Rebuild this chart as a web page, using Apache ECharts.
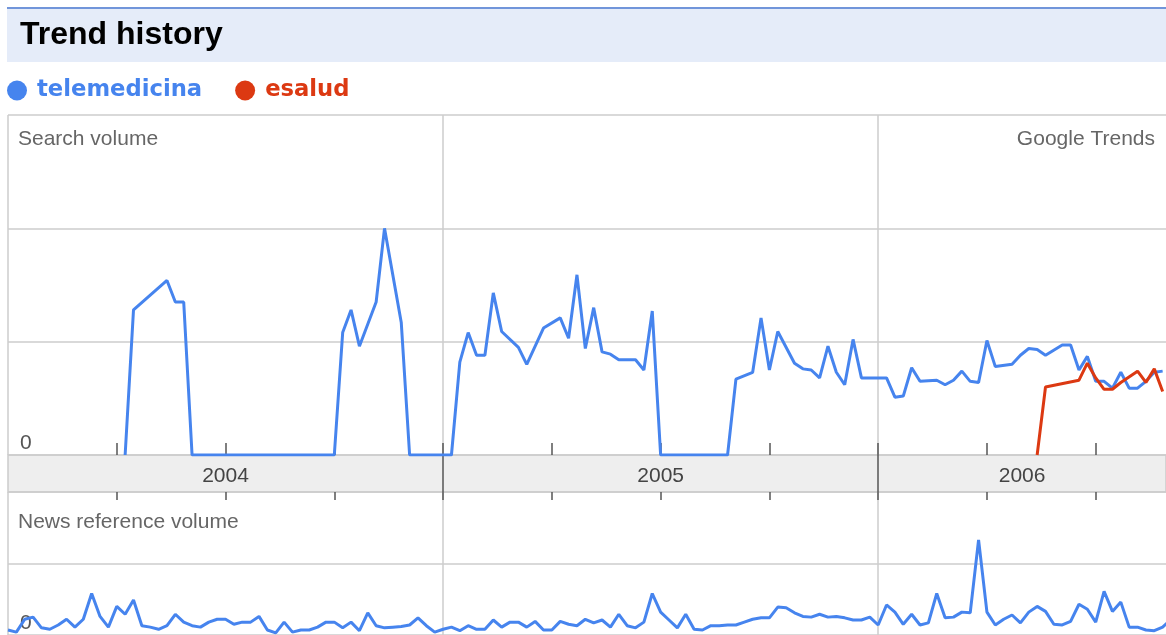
<!DOCTYPE html>
<html>
<head>
<meta charset="utf-8">
<script src="https://cdn.jsdelivr.net/npm/echarts@6/dist/echarts.min.js"></script>
<style>
html,body{margin:0;padding:0;background:#fff;}
#c{width:1166px;height:635px;}
</style>
</head>
<body>
<div id="c"></div>
<script>
// Week index 0 = first week of January 2004 (52 weeks per year)
const yearLabels = ['2004', '2005', '2006'];
const quarterTickWeeks = [13, 26, 39, 52, 65, 78, 91, 104, 117, 130];
const yearBoundaryWeeks = [52, 104];
const yearLabelWeeks = [26, 78, 121.2];

// Search volume - telemedicina (vertices: week, value)
const teleWeeks = [14, 15, 19, 20, 21, 22, 39, 40, 41, 42, 44, 45, 47, 48, 53, 54, 55, 56, 57, 58, 59, 61, 62, 64, 66, 67, 68, 69, 70, 71, 72, 73, 75, 76, 77, 78, 86, 87, 89, 90, 91, 92, 94, 95, 96, 97, 98, 99, 100, 101, 102, 105, 106, 107, 108, 109, 111, 112, 113, 114, 115, 116, 117, 118, 120, 121, 122, 123, 124, 126, 127, 128, 129, 130, 131, 132, 133, 134, 135, 136, 137, 138];
const teleValues = [0, 1.28, 1.54, 1.35, 1.35, 0, 0, 1.08, 1.28, 0.96, 1.35, 2.0, 1.17, 0, 0, 0.82, 1.08, 0.88, 0.88, 1.43, 1.09, 0.95, 0.80, 1.12, 1.21, 1.03, 1.59, 0.94, 1.30, 0.91, 0.89, 0.84, 0.84, 0.75, 1.27, 0, 0, 0.67, 0.73, 1.21, 0.75, 1.09, 0.81, 0.76, 0.75, 0.68, 0.96, 0.73, 0.62, 1.02, 0.68, 0.68, 0.51, 0.52, 0.77, 0.65, 0.66, 0.62, 0.66, 0.74, 0.65, 0.64, 1.01, 0.78, 0.80, 0.88, 0.94, 0.93, 0.88, 0.97, 0.97, 0.75, 0.87, 0.65, 0.65, 0.59, 0.73, 0.59, 0.59, 0.65, 0.73, 0.74];

// Search volume - esalud
const esaludWeeks = [123, 124, 128, 129, 130, 131, 132, 133, 135, 136, 137, 138];
const esaludValues = [0, 0.60, 0.66, 0.81, 0.68, 0.58, 0.58, 0.64, 0.74, 0.64, 0.76, 0.56];

// News reference volume - telemedicina (weekly, week 0 .. 139)
const newsValues = [0.07, 0.04, 0.22, 0.25, 0.10, 0.08, 0.14, 0.22, 0.11, 0.22, 0.58, 0.26, 0.11, 0.40, 0.29, 0.49, 0.13, 0.11, 0.08, 0.13, 0.29, 0.18, 0.13, 0.11, 0.18, 0.22, 0.22, 0.15, 0.18, 0.18, 0.26, 0.07, 0.03, 0.18, 0.04, 0.07, 0.07, 0.11, 0.18, 0.18, 0.10, 0.18, 0.06, 0.31, 0.13, 0.10, 0.11, 0.12, 0.14, 0.24, 0.13, 0.04, 0.08, 0.11, 0.06, 0.13, 0.08, 0.08, 0.21, 0.11, 0.18, 0.18, 0.11, 0.19, 0.07, 0.07, 0.19, 0.15, 0.13, 0.22, 0.17, 0.21, 0.11, 0.29, 0.13, 0.10, 0.18, 0.58, 0.32, 0.21, 0.10, 0.29, 0.08, 0.07, 0.13, 0.13, 0.14, 0.14, 0.18, 0.22, 0.24, 0.24, 0.39, 0.38, 0.31, 0.26, 0.25, 0.29, 0.25, 0.26, 0.24, 0.21, 0.21, 0.25, 0.14, 0.42, 0.32, 0.15, 0.29, 0.14, 0.17, 0.58, 0.24, 0.25, 0.32, 0.31, 1.33, 0.32, 0.14, 0.22, 0.28, 0.17, 0.32, 0.40, 0.33, 0.15, 0.14, 0.19, 0.43, 0.36, 0.18, 0.61, 0.33, 0.46, 0.11, 0.11, 0.07, 0.06, 0.11, 0.22];

const BLUE = '#4684ee', RED = '#dc3912', GRID = '#cccccc', TICK = '#555555';
const WEEK_MAX = 138.4;
const sansFont = '"Liberation Sans", Arial, sans-serif';

const pairs = (xs, ys) => xs.map((x, i) => [x, ys[i]]);
const newsData = newsValues.map((v, i) => [i, v]);

const chart = echarts.init(document.getElementById('c'), null, {renderer: 'canvas'});

const zeroLabel = {
  show: true, inside: true, margin: 12,
  formatter: v => (v === 0 ? '0' : ''),
  color: '#555', fontSize: 21, fontFamily: sansFont,
  verticalAlign: 'bottom', padding: [0, 0, 1, 0]
};

chart.setOption({
  animation: false,
  backgroundColor: '#ffffff',
  title: {
    text: 'Trend history', left: 20, top: 19, padding: 0,
    textStyle: {fontSize: 32, fontWeight: 'bold', color: '#000', fontFamily: sansFont}
  },
  legend: {
    left: 7, top: 79, padding: 0, icon: 'circle', itemWidth: 20, itemHeight: 20, itemGap: 33,
    selectedMode: false,
    textStyle: {fontSize: 22.7, fontWeight: 'bold', fontFamily: '"DejaVu Sans", Verdana, sans-serif', padding: [0, 0, 0, 5]},
    data: [
      {name: 'telemedicina', textStyle: {color: BLUE}},
      {name: 'esalud', textStyle: {color: RED}}
    ]
  },
  graphic: [
    {type: 'rect', z: -10, shape: {x: 7, y: 9, width: 1162, height: 53}, style: {fill: '#e5ecf9'}},
    {type: 'rect', z: -9, shape: {x: 7, y: 7, width: 1162, height: 2}, style: {fill: '#7195da'}},
    {type: 'text', x: 18, y: 129, style: {text: 'Search volume', fill: '#666', fontSize: 21, fontFamily: sansFont}},
    {type: 'text', x: 1155, y: 129, style: {text: 'Google Trends', fill: '#666', fontSize: 21, fontFamily: sansFont, align: 'right'}},
    {type: 'text', x: 18, y: 512, style: {text: 'News reference volume', fill: '#666', fontSize: 21, fontFamily: sansFont}}
  ],
  grid: [
    {left: 8, right: 0, top: 115, height: 340},
    {left: 8, right: -2, top: 455, height: 37, show: true, backgroundColor: '#eeeeee', borderColor: GRID, borderWidth: 1.5},
    {left: 8, right: 0, top: 492, height: 144}
  ],
  xAxis: [
    { // 0: search grid split lines
      gridIndex: 0, type: 'value', min: 0, max: WEEK_MAX, interval: 52,
      axisLine: {show: false}, axisTick: {show: false}, axisLabel: {show: false},
      splitLine: {show: true, showMaxLine: false, lineStyle: {color: GRID, width: 1.5}}
    },
    { // 1: search grid quarter ticks + year labels in band
      gridIndex: 0, type: 'value', min: 0, max: WEEK_MAX, position: 'bottom',
      axisLine: {show: false}, splitLine: {show: false},
      axisTick: {show: true, inside: true, length: 12, customValues: quarterTickWeeks, lineStyle: {color: TICK, width: 1.5}},
      axisLabel: {show: true, customValues: yearLabelWeeks, margin: 11, color: '#444', fontSize: 21, fontFamily: sansFont,
        formatter: v => yearLabels[Math.floor(v / 52)]}
    },
    { // 2: band year boundary marks
      gridIndex: 1, type: 'value', min: 0, max: WEEK_MAX, position: 'bottom',
      axisLine: {show: false}, splitLine: {show: false}, axisLabel: {show: false},
      axisTick: {show: true, inside: true, length: 37, customValues: yearBoundaryWeeks, lineStyle: {color: TICK, width: 1.5}}
    },
    { // 3: news grid split lines
      gridIndex: 2, type: 'value', min: 0, max: WEEK_MAX, interval: 52,
      axisLine: {show: false}, axisTick: {show: false}, axisLabel: {show: false},
      splitLine: {show: true, showMaxLine: false, lineStyle: {color: GRID, width: 1.5}}
    },
    { // 4: news grid ticks at top
      gridIndex: 2, type: 'value', min: 0, max: WEEK_MAX, position: 'top',
      axisLine: {show: false}, splitLine: {show: false}, axisLabel: {show: false},
      axisTick: {show: true, inside: true, length: 8, customValues: quarterTickWeeks, lineStyle: {color: TICK, width: 1.5}}
    }
  ],
  yAxis: [
    {gridIndex: 0, type: 'value', min: 0, max: 3, interval: 1,
      axisLine: {show: false}, axisTick: {show: false}, axisLabel: zeroLabel,
      splitLine: {show: true, lineStyle: {color: GRID, width: 1.5}}},
    {gridIndex: 1, type: 'value', min: 0, max: 1, show: false},
    {gridIndex: 2, type: 'value', min: 0, max: 2, interval: 1,
      axisLine: {show: false}, axisTick: {show: false}, axisLabel: zeroLabel,
      splitLine: {show: true, lineStyle: {color: GRID, width: 1.5}}}
  ],
  series: [
    {name: 'telemedicina', type: 'line', xAxisIndex: 0, yAxisIndex: 0, data: pairs(teleWeeks, teleValues),
      showSymbol: false, symbol: 'none', lineStyle: {color: BLUE, width: 3}, itemStyle: {color: BLUE}, z: 3},
    {name: 'esalud', type: 'line', xAxisIndex: 0, yAxisIndex: 0, data: pairs(esaludWeeks, esaludValues),
      showSymbol: false, symbol: 'none', lineStyle: {color: RED, width: 3}, itemStyle: {color: RED}, z: 4},
    {name: 'telemedicina', type: 'line', xAxisIndex: 3, yAxisIndex: 2, data: newsData,
      showSymbol: false, symbol: 'none', lineStyle: {color: BLUE, width: 3}, itemStyle: {color: BLUE}, z: 3}
  ]
});
</script>
</body>
</html>
